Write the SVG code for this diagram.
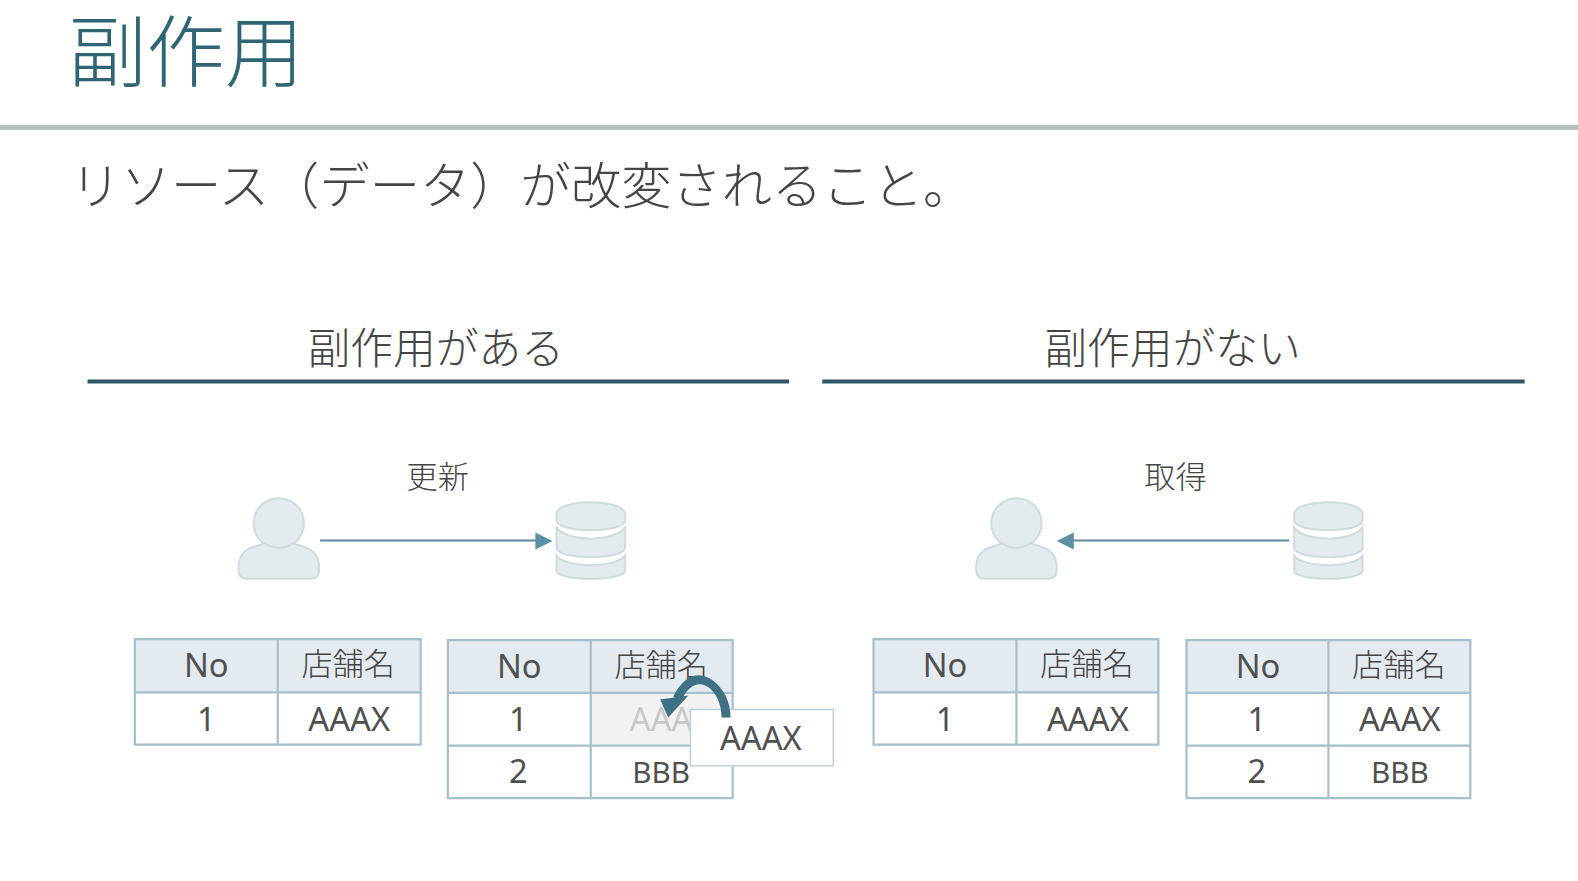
<svg xmlns="http://www.w3.org/2000/svg" width="1578" height="881" viewBox="0 0 1578 881">
<style>
text{font-family:"Noto Sans CJK JP","Noto Sans",sans-serif;font-weight:300;fill:#454545}
.c{text-anchor:middle}
.l{font-family:"Noto Sans","Noto Sans CJK JP",sans-serif;font-weight:400;font-size:32.500px;text-anchor:middle;fill:#505050}
.b{font-size:29.500px}
.j{font-size:31px;text-anchor:middle}
.h{fill:#e4ebf0}
.g{fill:none;stroke:#a3c0cb;stroke-width:2.200}
.i{fill:#e4ebef;stroke:#cfdbdd;stroke-width:2}
.u{stroke:#2f5668;stroke-width:4}
.a{stroke:#5f8c9c;stroke-width:2;fill:none}
</style>
<defs>
<g id="person"><circle cx="0" cy="25" r="25"/><path d="M-40 72V68Q-40 53 -24 48L-14 45Q0 54 14 45L24 48Q40 53 40 68V72Q40 80 32 80H-32Q-40 80 -40 72Z"/></g>
<g id="db"><path d="M-34 14C-34 -2 34 -2 34 14V20C34 33 -34 33 -34 20Z"/><path d="M-34 27C-24 42 24 42 34 27V47C34 60 -34 60 -34 47Z"/><path d="M-34 55C-24 68 24 68 34 55V70C34 81 -34 81 -34 70Z"/></g>
</defs>
<rect width="1578" height="881" fill="#fff"/>
<g transform="scale(1.00638)">
<g id="header">
<text x="67.500" y="80" font-size="78" style="fill:#2f6574">副作用</text>
<rect x="0" y="124" width="1568" height="5" fill="#b4bfbd"/>
<text x="70" y="203" font-size="50">リソース（データ）が改変されること。</text>
</g>
<g id="left-heading"><text class="c" x="433" y="362" font-size="42.500">副作用がある</text><line class="u" x1="87" y1="379" x2="784" y2="379"/></g>
<g id="right-heading"><text class="c" x="1165" y="362" font-size="42.500">副作用がない</text><line class="u" x1="817" y1="379" x2="1515" y2="379"/></g>
<g id="label-update"><text class="c" x="435" y="485" font-size="31">更新</text></g>
<g id="label-get"><text class="c" x="1168" y="485" font-size="31">取得</text></g>
<g id="user-left" class="i"><use href="#person" x="277" y="495"/></g>
<g id="db-left" class="i"><use href="#db" x="587" y="497"/></g>
<g id="user-right" class="i"><use href="#person" x="1010" y="495"/></g>
<g id="db-right" class="i"><use href="#db" x="1320" y="497"/></g>
<g id="connectors">
<line class="a" x1="318" y1="537" x2="533" y2="537"/><path d="M532 529L549 537.500L532 546Z" fill="#5b8fa3"/>
<line class="a" x1="1281" y1="537" x2="1066" y2="537"/><path d="M1067 529L1050 537.500L1067 546Z" fill="#5b8fa3"/>
</g>
<g id="table-1">
<rect class="h" x="134" y="635" width="284" height="53"/>
<path class="g" d="M134 635H418V740H134ZM134 688H418M276 635V740"/>
<text class="l" x="205" y="673">No</text><text class="j" x="346" y="671">店舗名</text>
<text class="l" x="205" y="726">1</text><text class="l" x="347" y="726">AAAX</text>
</g>
<g id="table-2">
<rect class="h" x="445" y="636" width="283" height="52"/>
<rect x="587" y="689" width="141" height="52" fill="#f2f2f2"/>
<path class="g" d="M445 636H728V793H445ZM445 688.500H728M445 741H728M587 636V793"/>
<text class="l" x="516" y="674">No</text><text class="j" x="657" y="672">店舗名</text>
<text class="l" x="515" y="726">1</text><text class="l" x="657" y="726" style="fill:#c8c8c8">AAA</text>
<text class="l" x="515" y="778">2</text><text class="l b" x="657" y="778">BBB</text>
</g>
<g id="popup">
<rect x="686" y="705" width="142" height="56" fill="#fff" stroke="#bcd2da" stroke-width="1.500"/>
<text class="l" x="756" y="745">AAAX</text>
</g>
<g id="curved-arrow">
<path d="M726 713C726 688 708 671 694 671C684 671 675 680 669 692L677 697C681 686 688 680 696 680C707 681 717 695 717 713Z" fill="#3f7186"/>
<path d="M656 695L684 691L664 713Z" fill="#3f7186"/>
</g>
<g id="table-3">
<rect class="h" x="868" y="635" width="283" height="53"/>
<path class="g" d="M868 635H1151V740H868ZM868 688H1151M1010 635V740"/>
<text class="l" x="939" y="673">No</text><text class="j" x="1080" y="671">店舗名</text>
<text class="l" x="939" y="726">1</text><text class="l" x="1081" y="726">AAAX</text>
</g>
<g id="table-4">
<rect class="h" x="1179" y="636" width="282" height="52"/>
<path class="g" d="M1179 636H1461V793H1179ZM1179 688.500H1461M1179 741H1461M1320 636V793"/>
<text class="l" x="1250" y="674">No</text><text class="j" x="1390" y="672">店舗名</text>
<text class="l" x="1249" y="726">1</text><text class="l" x="1391" y="726">AAAX</text>
<text class="l" x="1249" y="778">2</text><text class="l b" x="1391" y="778">BBB</text>
</g>
</g>
</svg>
